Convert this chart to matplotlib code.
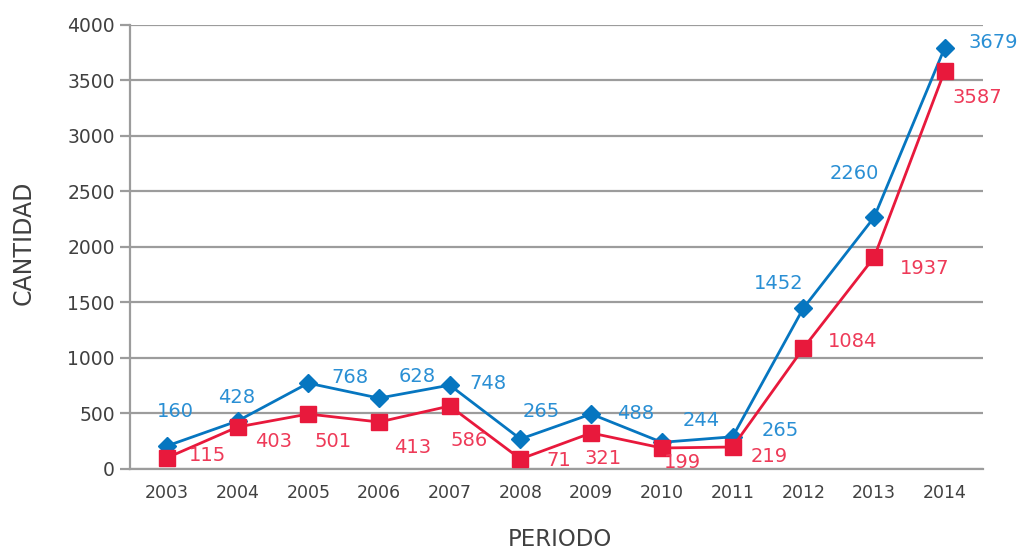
import matplotlib.pyplot as plt

years = ['2003', '2004', '2005', '2006', '2007', '2008',
         '2009', '2010', '2011', '2012', '2013', '2014']

# values as drawn in the picture (marker heights)
blue_vals = [207, 432, 773, 638, 755, 270, 495, 240, 290, 1448, 2266, 3795]
red_vals = [100, 378, 495, 423, 567, 90, 324, 189, 198, 1088, 1906, 3588]

# data labels as printed on the picture
blue_text = ['160', '428', '768', '628', '748', '265', '488', '244', '265', '1452', '2260', '3679']
red_text = ['115', '403', '501', '413', '586', '71', '321', '199', '219', '1084', '1937', '3587']

# label offsets from the marker, in pixels
blue_off = [(9, 34), (-1, 24), (42, 6), (38, 22), (38, 2), (21, 27),
            (44, 1), (39, 22), (48, 6), (-25, 25), (-20, 44), (48, 5)]
red_off = [(41, 2), (36, -14), (25, -27), (34, -25), (19, -34), (38, -2),
           (12, -25), (21, -15), (37, -10), (49, 7), (51, -11), (32, -27)]

blue = '#0676c0'
red = '#e8193c'
blue_lbl = '#2a8fd4'
red_lbl = '#ee3a58'
grey = '#9c9c9c'
dark = '#404040'

plt.rcParams['font.family'] = ['DejaVu Sans']

fig = plt.figure(figsize=(10.19, 5.5), dpi=100)
ax = fig.add_axes([0.1276, 0.1473, 0.8371, 0.8077])

x = list(range(len(years)))
ax.plot(x, blue_vals, color=blue, lw=2, marker='D', ms=9, zorder=3)
ax.plot(x, red_vals, color=red, lw=2, marker='s', ms=12, zorder=4)

for i in x:
    ax.annotate(blue_text[i], (i, blue_vals[i]), xytext=blue_off[i],
                textcoords='offset pixels', ha='center', va='center',
                color=blue_lbl, fontsize=14, zorder=5)
    ax.annotate(red_text[i], (i, red_vals[i]), xytext=red_off[i],
                textcoords='offset pixels', ha='center', va='center',
                color=red_lbl, fontsize=14, zorder=5)

ax.set_xlim(-0.52, 11.54)
ax.set_ylim(0, 4000)
ax.set_yticks(range(0, 4001, 500))
ax.set_xticks(x)
ax.set_xticklabels(years)

ax.yaxis.grid(True, color=grey, lw=1.6)
ax.set_axisbelow(True)
for s in ['top', 'right']:
    ax.spines[s].set_visible(False)
for s in ['left', 'bottom']:
    ax.spines[s].set_color(grey)
    ax.spines[s].set_linewidth(1.6)

ax.tick_params(axis='y', length=7, width=1.6, color=grey, pad=4,
               labelsize=13.5, labelcolor=dark)
ax.tick_params(axis='x', length=0, pad=11, labelsize=12.5, labelcolor=dark)

ax.set_ylabel('CANTIDAD', fontsize=17, color=dark)
ax.set_xlabel('PERIODO', fontsize=16.5, color=dark)
ax.yaxis.set_label_coords(-0.111, 0.509)
ax.xaxis.set_label_coords(0.504, -0.133)

fig.savefig('out.png', dpi=100)
